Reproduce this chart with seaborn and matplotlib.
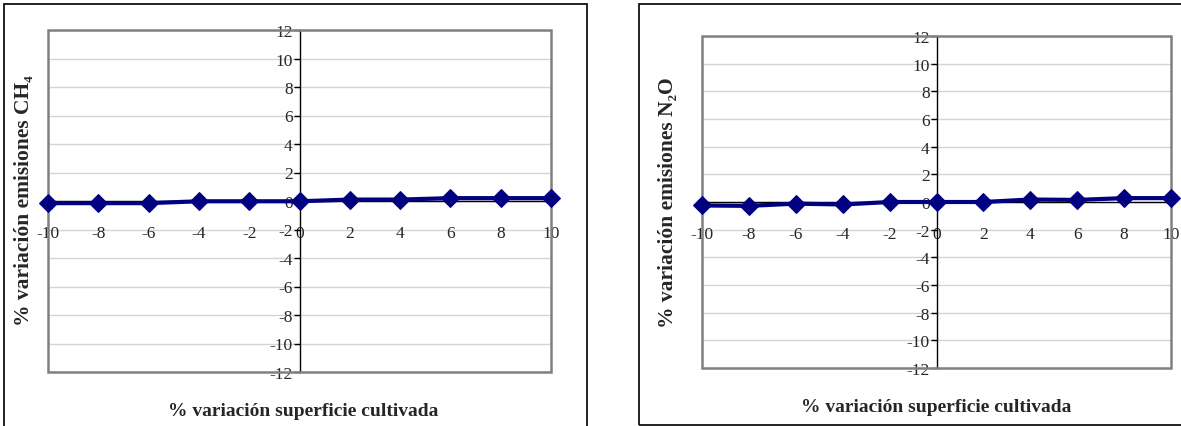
import numpy as np
import pandas as pd
import matplotlib
matplotlib.use("Agg")
import matplotlib.pyplot as plt
from matplotlib.patches import Rectangle
import seaborn as sns

# ---- data ----
x_vals = [-10, -8, -6, -4, -2, 0, 2, 4, 6, 8, 10]
ch4_vals = [-0.15, -0.15, -0.15, -0.02, -0.02, -0.02, 0.1, 0.1, 0.2, 0.2, 0.2]
n2o_vals = [-0.25, -0.28, -0.12, -0.18, 0.0, 0.0, 0.0, 0.18, 0.15, 0.28, 0.28]
y_ticks = [-12, -10, -8, -6, -4, -2, 0, 2, 4, 6, 8, 10, 12]
x_ticks = [-10, -8, -6, -4, -2, 0, 2, 4, 6, 8, 10]
ylabel_ch4 = "% variación emisiones CH₄"
ylabel_n2o = "% variación emisiones N₂O"
xlabel_txt = "% variación superficie cultivada"

sns.set_style("white")
plt.rcParams['font.family'] = ['Liberation Serif', 'DejaVu Serif']

W, H = 1181, 427
fig = plt.figure(figsize=(W / 100, H / 100), dpi=100)


def fx(px):
    return px / W


def fy(py):
    return 1 - py / H


LINE = "#000080"
GRID = "#d4d4d4"
BORDER = "#808080"


def make_panel(rect, yvals, ylab, ylab_pos, xlab_pos):
    l, t, r, b = rect
    ax = fig.add_axes([fx(l), fy(b), fx(r - l), (b - t) / H])
    df = pd.DataFrame({"x": x_vals, "y": yvals})
    for yv in y_ticks:
        ax.axhline(yv, color=GRID, lw=1.0, zorder=0)
    sns.lineplot(data=df, x="x", y="y", ax=ax, color=LINE, linewidth=3.0,
                 marker="D", markersize=9.5, markeredgecolor=LINE,
                 markerfacecolor=LINE, clip_on=False, zorder=5)
    ax.set_xlim(-10, 10)
    ax.set_ylim(-12, 12)
    ax.set_xlabel("")
    ax.set_ylabel("")
    for s in ["top", "right"]:
        ax.spines[s].set_visible(False)
    ax.spines["left"].set_position(("data", 0))
    ax.spines["bottom"].set_position(("data", 0))
    ax.spines["left"].set_color("black")
    ax.spines["bottom"].set_color("black")
    ax.spines["left"].set_linewidth(1.0)
    ax.spines["bottom"].set_linewidth(1.0)
    ax.spines["left"].set_zorder(3)
    ax.spines["bottom"].set_zorder(3)
    ax.add_patch(Rectangle((0, 0), 1, 1, transform=ax.transAxes, fill=False,
                           edgecolor=BORDER, lw=1.8, zorder=4, clip_on=False))
    ax.set_yticks(y_ticks)
    ax.set_xticks(x_ticks)
    ax.set_yticklabels([str(v) for v in y_ticks])
    ax.set_xticklabels([str(v) for v in x_ticks])
    ax.tick_params(axis="y", direction="out", length=4, width=1, color="black",
                   labelsize=12.5, pad=1, left=True)
    ax.tick_params(axis="x", length=0, labelsize=12.5, pad=17, bottom=True)
    fig.text(fx(ylab_pos[0]), fy(ylab_pos[1]), ylab, rotation=90, ha="center",
             va="center", fontsize=15.5, fontweight="bold")
    fig.text(fx(xlab_pos[0]), fy(xlab_pos[1]), xlabel_txt, ha="center",
             va="center", fontsize=14, fontweight="bold")
    return ax


# outer frames
fig.add_artist(Rectangle((fx(4), -0.1), fx(587 - 4), fy(5) + 0.1,
                         transform=fig.transFigure, fill=False,
                         edgecolor="#111111", lw=1.3))
fig.add_artist(Rectangle((fx(639), fy(426)), 1, (426 - 5) / H,
                         transform=fig.transFigure, fill=False,
                         edgecolor="#111111", lw=1.3))

make_panel((48, 31, 551, 373), ch4_vals, ylabel_ch4, (24, 201), (303, 412))
make_panel((702, 37, 1171, 369), n2o_vals, ylabel_n2o, (668, 203), (936, 408))

fig.savefig("out.png", dpi=100)
